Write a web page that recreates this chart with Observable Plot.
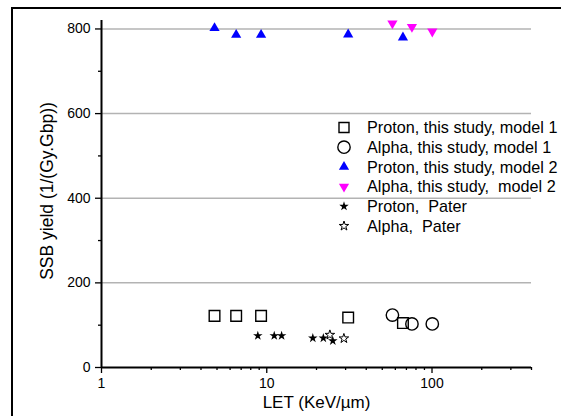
<!DOCTYPE html>
<html>
<head>
<meta charset="utf-8">
<script src="https://cdn.jsdelivr.net/npm/d3@7"></script>
<script src="https://cdn.jsdelivr.net/npm/@observablehq/plot@0.6"></script>
<style>
  html, body { margin: 0; padding: 0; background: #fff; width: 561px; height: 416px; overflow: hidden; }
  #wrap { position: relative; width: 561px; height: 416px; }
  #frame { position: absolute; left: 11px; top: 7px; width: 600px; height: 500px; border: 2px solid #000; box-sizing: border-box; }
  #chart { position: absolute; left: 0; top: 0; }
  #legend { position: absolute; left: 0; top: 0; }
</style>
</head>
<body>
<div id="wrap"><div id="frame"></div><div id="chart"></div><svg id="legend" width="561" height="416"></svg></div>
<script>
// Data
const protonM1LET = [4.83, 6.53, 9.24, 31.1, 66.7];
const protonM1SSB = [122, 122, 122, 118, 105];
const alphaM1LET = [57.6, 75.6, 100.4];
const alphaM1SSB = [124, 103, 103];
const protonM2LET = [4.83, 6.53, 9.24, 31.1, 66.7];
const protonM2SSB = [802, 786, 786, 787, 780];
const alphaM2LET = [57.6, 75.6, 100.4];
const alphaM2SSB = [813, 805, 794];
const protonPaterLET = [8.83, 11.1, 12.3, 19.0, 22.0, 25.1];
const protonPaterSSB = [75, 75, 75, 69.5, 69.5, 63];
const alphaPaterLET = [24.1, 29.3];
const alphaPaterSSB = [77, 68.6];

const yMajor = [0, 200, 400, 600, 800];
const yMinor = [100, 300, 500, 700];
const yGrid = [200, 400, 600, 800];
const xMajor = [1, 10, 100];
const xMinor = [2,3,4,5,6,7,8,9,20,30,40,50,60,70,80,90,200,300,400];

const legendLabels = [
  "Proton, this study, model 1",
  "Alpha, this study, model 1",
  "Proton, this study, model 2",
  "Alpha, this study,  model 2",
  "Proton,  Pater",
  "Alpha,  Pater"
];

const zip = (xs, ys) => xs.map((x, i) => ({x, y: ys[i]}));
const font = "'Liberation Sans', Arial, sans-serif";

const chart = Plot.plot({
  width: 561,
  height: 416,
  marginLeft: 101,
  marginRight: 30,
  marginTop: 20,
  marginBottom: 49,
  style: {fontFamily: font, background: "transparent", color: "#000"},
  x: {type: "log", domain: [1, 400]},
  y: {domain: [0, 820]},
  marks: [
    Plot.ruleY(yGrid, {stroke: "#b3b3b3", strokeWidth: 1.5}),
    Plot.axisY({ticks: yMajor, tickSize: 6, tickPadding: 5, fontSize: 14, label: null, tickFormat: d => d, strokeWidth: 1.3}),
    Plot.axisY({ticks: yMinor, tickSize: 3, tickFormat: () => "", label: null, strokeWidth: 1.3}),
    Plot.axisX({ticks: xMajor, tickSize: 6, tickPadding: 5, fontSize: 14, label: null, tickFormat: d => d, strokeWidth: 1.3}),
    Plot.axisX({ticks: xMinor, tickSize: 3, tickFormat: () => "", label: null, strokeWidth: 1.3}),
    Plot.ruleX([1], {y1: 0, y2: 820, stroke: "#000", strokeWidth: 2}),
    Plot.ruleY([0], {x1: 1, x2: 400, stroke: "#000", strokeWidth: 2}),
    Plot.text(["SSB yield (1/(Gy.Gbp))"], {frameAnchor: "left", textAnchor: "middle", rotate: -90, dx: -54, dy: -3, fontSize: 17.5, fill: "#000"}),
    Plot.text(["LET (KeV/µm)"], {frameAnchor: "bottom", textAnchor: "middle", dy: 40, fontSize: 17, fill: "#000"}),
    Plot.dot(zip(protonM2LET, protonM2SSB), {x: "x", y: "y", symbol: "triangle", r: 3.8, fill: "#0000ff", stroke: "none"}),
    Plot.dot(zip(alphaM2LET, alphaM2SSB), {x: "x", y: "y", symbol: "triangle", r: 3.8, rotate: 180, fill: "#ff00ff", stroke: "none"}),
    Plot.dot(zip(protonM1LET, protonM1SSB), {x: "x", y: "y", symbol: "square", r: 6, fill: "none", stroke: "#000", strokeWidth: 1.4}),
    Plot.dot(zip(alphaM1LET, alphaM1SSB), {x: "x", y: "y", symbol: "circle", r: 6.2, fill: "none", stroke: "#000", strokeWidth: 1.4}),
    Plot.dot(zip(protonPaterLET, protonPaterSSB), {x: "x", y: "y", symbol: "star", r: 3, fill: "#000", stroke: "none"}),
    Plot.dot(zip(alphaPaterLET, alphaPaterSSB), {x: "x", y: "y", symbol: "star", r: 3, fill: "#fff", stroke: "#000", strokeWidth: 1})
  ]
});
document.getElementById("chart").appendChild(chart);

// Legend
const leg = d3.select("#legend");
const styles = [
  {type: d3.symbolSquare, size: 100, fill: "none", stroke: "#000", sw: 1.4, rot: 0},
  {type: d3.symbolCircle, size: 120, fill: "none", stroke: "#000", sw: 1.4, rot: 0},
  {type: d3.symbolTriangle, size: 45, fill: "#0000ff", stroke: "none", sw: 0, rot: 0},
  {type: d3.symbolTriangle, size: 45, fill: "#ff00ff", stroke: "none", sw: 0, rot: 180},
  {type: d3.symbolStar, size: 28, fill: "#000", stroke: "none", sw: 0, rot: 0},
  {type: d3.symbolStar, size: 28, fill: "#fff", stroke: "#000", sw: 1, rot: 0}
];
legendLabels.forEach((label, i) => {
  const cy = 127.5 + i * 19.7;
  const s = styles[i];
  leg.append("path")
    .attr("d", d3.symbol(s.type, s.size)())
    .attr("transform", `translate(344,${cy}) rotate(${s.rot})`)
    .attr("fill", s.fill).attr("stroke", s.stroke).attr("stroke-width", s.sw);
  leg.append("text")
    .attr("x", 367).attr("y", cy).attr("dy", "0.35em")
    .attr("font-family", font).attr("font-size", 16.2)
    .attr("fill", "#000")
    .style("white-space", "pre")
    .text(label);
});
</script>
</body>
</html>
